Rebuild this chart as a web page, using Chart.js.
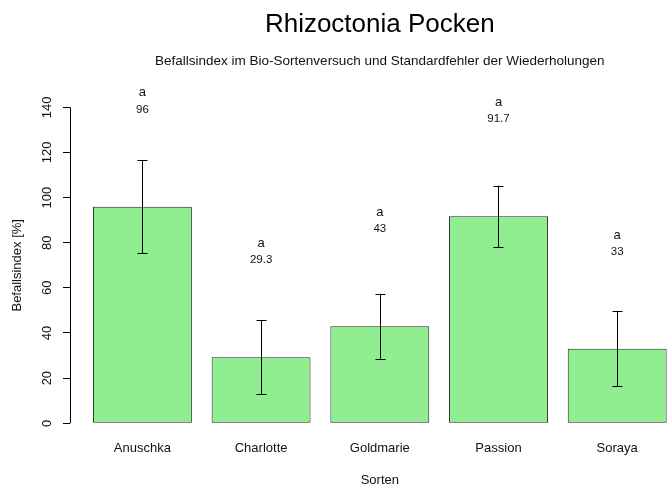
<!DOCTYPE html>
<html>
<head>
<meta charset="utf-8">
<script src="https://cdn.jsdelivr.net/npm/chart.js@4/dist/chart.umd.min.js"></script>
<style>
  html, body { margin: 0; padding: 0; background: #ffffff; }
  #wrap { width: 667px; height: 486px; overflow: hidden; position: relative; }
  canvas { display: block; }
</style>
</head>
<body>
<div id="wrap"><canvas id="c" width="720" height="486"></canvas></div>
<script>
// ---- data ----
const categories = ["Anuschka", "Charlotte", "Goldmarie", "Passion", "Soraya"];
const means      = [96, 29.3, 43, 91.7, 33];
const stdErrors  = [20.7, 16.4, 14.4, 13.6, 16.6];
const letters    = ["a", "a", "a", "a", "a"];
const valueLabels = ["96", "29.3", "43", "91.7", "33"];
const yTicks     = [0, 20, 40, 60, 80, 100, 120, 140];

const FONT = "'Liberation Sans', Arial, Helvetica, sans-serif";

// error bars, letters and values, drawn through the chart's scales
const annotate = {
  id: 'annotate',
  afterDatasetsDraw(chart) {
    const ctx = chart.ctx;
    const y = chart.scales.y;
    const meta = chart.getDatasetMeta(0);
    ctx.save();
    ctx.strokeStyle = '#000';
    ctx.lineWidth = 1;
    meta.data.forEach((bar, i) => {
      const x = Math.round(bar.x) + 0.5;
      const yTop = y.getPixelForValue(means[i] + stdErrors[i]);
      const yBot = y.getPixelForValue(means[i] - stdErrors[i]);
      ctx.beginPath();
      ctx.moveTo(x, yTop); ctx.lineTo(x, yBot);
      ctx.moveTo(x - 5, Math.round(yTop) + 0.5); ctx.lineTo(x + 5, Math.round(yTop) + 0.5);
      ctx.moveTo(x - 5, Math.round(yBot) + 0.5); ctx.lineTo(x + 5, Math.round(yBot) + 0.5);
      ctx.stroke();
      ctx.fillStyle = '#111';
      ctx.textAlign = 'center';
      ctx.textBaseline = 'middle';
      ctx.font = '13px ' + FONT;
      ctx.fillText(letters[i], bar.x, y.getPixelForValue(means[i] + 50) - 1);
      ctx.font = '11.5px ' + FONT;
      ctx.fillText(valueLabels[i], bar.x, y.getPixelForValue(means[i] + 43));
    });
    ctx.restore();
  }
};

// R-style y axis line spanning only the first to last tick
const rAxisLine = {
  id: 'rAxisLine',
  afterDraw(chart) {
    const y = chart.scales.y;
    const ctx = chart.ctx;
    const x = Math.round(chart.chartArea.left) + 0.5;
    ctx.save();
    ctx.strokeStyle = '#000';
    ctx.lineWidth = 1;
    ctx.beginPath();
    ctx.moveTo(x, y.getPixelForValue(yTicks[0]));
    ctx.lineTo(x, y.getPixelForValue(yTicks[yTicks.length - 1]));
    ctx.stroke();
    ctx.restore();
  }
};

new Chart(document.getElementById('c'), {
  type: 'bar',
  data: {
    datasets: [{
      data: means.map((v, i) => ({ x: i, y: v })),
      backgroundColor: '#90EE90',
      borderColor: '#1f2a1f',
      borderWidth: 1,
      borderSkipped: false,
      categoryPercentage: 1,
      barPercentage: 1 / 1.2
    }]
  },
  options: {
    responsive: false,
    animation: false,
    devicePixelRatio: 1,
    layout: { padding: { left: 0, right: 30.4, top: 0, bottom: 0 } },
    plugins: {
      legend: { display: false },
      tooltip: { enabled: false },
      title: {
        display: true,
        text: 'Rhizoctonia Pocken',
        fullSize: false,
        color: '#000',
        font: { family: FONT, size: 26, weight: 'normal', lineHeight: 1.2 },
        padding: { top: 9, bottom: 0 }
      },
      subtitle: {
        display: true,
        text: 'Befallsindex im Bio-Sortenversuch und Standardfehler der Wiederholungen',
        fullSize: false,
        color: '#111',
        font: { family: FONT, size: 13.5, weight: 'normal', lineHeight: 1.2 },
        padding: { top: 12.7, bottom: 25.6 }
      }
    },
    scales: {
      x: {
        type: 'linear',
        offset: false,
        min: -0.61,
        max: 4.61,
        grid: { display: false, drawTicks: false, offset: false },
        border: { display: false },
        ticks: {
          stepSize: 1,
          includeBounds: false,
          autoSkip: false,
          maxRotation: 0,
          padding: 4.6,
          color: '#111',
          font: { family: FONT, size: 13, lineHeight: 1.2 },
          callback: (v) => (Number.isInteger(v) && categories[v] !== undefined) ? categories[v] : ''
        },
        title: {
          display: true,
          text: 'Sorten',
          color: '#111',
          font: { family: FONT, size: 13, lineHeight: 0.8 },
          padding: { top: 14.8, bottom: 0.1 }
        }
      },
      y: {
        min: -5.6,
        max: 145.6,
        grid: { drawOnChartArea: false, drawTicks: true, tickLength: 7, color: '#000', lineWidth: 1 },
        border: { display: false },
        afterBuildTicks: (s) => { s.ticks = yTicks.map(v => ({ value: v })); },
        ticks: {
          stepSize: 20,
          includeBounds: false,
          minRotation: 90,
          maxRotation: 90,
          crossAlign: 'center',
          padding: 5.2,
          color: '#111',
          font: { family: FONT, size: 13, lineHeight: 1.2 }
        },
        title: {
          display: true,
          text: 'Befallsindex [%]',
          color: '#111',
          font: { family: FONT, size: 13, lineHeight: 1.2 },
          padding: { top: 9.2, bottom: 12.2 }
        }
      }
    }
  },
  plugins: [annotate, rAxisLine]
});
</script>
</body>
</html>
